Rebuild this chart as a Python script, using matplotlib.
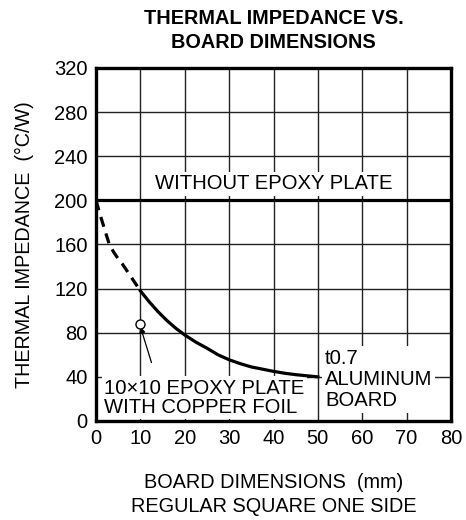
import matplotlib
matplotlib.use("Agg")
import matplotlib.pyplot as plt

plt.rcParams['font.family'] = ['Liberation Sans', 'DejaVu Sans']

# Data
without_epoxy_x = [0, 80]
without_epoxy_y = [200, 200]

dashed_x = [0, 1, 2, 3, 4, 5, 6, 7, 8, 9, 10]
dashed_y = [200, 186, 173, 160, 153, 147, 142, 136, 130, 124, 118]

solid_x = [10, 12, 14, 16, 18, 20, 22.5, 25, 27.5, 30, 32.5, 35, 37.5, 40, 42.5, 45, 47.5, 50]
solid_y = [118, 108, 99, 91, 84, 78, 71.5, 66, 60, 55.5, 52, 49, 47, 45, 43.3, 42, 41, 40]

point_x = [10]
point_y = [88]

x_ticks = [0, 10, 20, 30, 40, 50, 60, 70, 80]
y_ticks = [0, 40, 80, 120, 160, 200, 240, 280, 320]

fig = plt.figure(figsize=(4.66, 5.2), dpi=100)
ax = fig.add_axes([96/466, 1-421/520, (451-96)/466, (421-68)/520])

ax.set_xlim(0, 80)
ax.set_ylim(0, 320)
ax.set_xticks(x_ticks)
ax.set_yticks(y_ticks)
ax.tick_params(length=0, labelsize=14.5, pad=6, colors='black')
ax.grid(True, color='#222222', linewidth=1.0)
ax.set_axisbelow(True)
for s in ax.spines.values():
    s.set_linewidth(2.4)
    s.set_color('black')
    s.set_zorder(10)

ax.plot(without_epoxy_x, without_epoxy_y, color='black', lw=2.3, zorder=5, solid_capstyle='butt')
ax.plot(dashed_x, dashed_y, color='black', lw=2.3, ls=(0, (3.2, 2.2)), zorder=5)
ax.plot(solid_x, solid_y, color='black', lw=2.3, zorder=5)

ax.plot(point_x, point_y, marker='o', ms=6.5, mfc='white', mec='black', mew=1.0, ls='none', zorder=7)
ax.annotate('', xy=(point_x[0], point_y[0] - 2.5), xytext=(12.5, 53),
            arrowprops=dict(arrowstyle='-|>', color='black', lw=0.9, mutation_scale=9,
                            shrinkA=0, shrinkB=0), zorder=6)

fs = 14.6
ax.text(40, 215, 'WITHOUT EPOXY PLATE', ha='center', va='center', fontsize=fs, zorder=4,
        bbox=dict(boxstyle='square,pad=0.12', facecolor='white', edgecolor='none'))
ax.text(1.8, 21, '10\u00d710 EPOXY PLATE\nWITH COPPER FOIL', ha='left', va='center',
        fontsize=fs, linespacing=1.02, zorder=4,
        bbox=dict(boxstyle='square,pad=0.12', facecolor='white', edgecolor='none'))
ax.text(51.6, 37.5, 't0.7\nALUMINUM\nBOARD', ha='left', va='center',
        fontsize=fs, linespacing=1.12, zorder=4,
        bbox=dict(boxstyle='square,pad=0.15', facecolor='white', edgecolor='none'))

fig.text(273.5/466, 1-18/520, 'THERMAL IMPEDANCE VS.', ha='center', va='center',
         fontsize=14.3, fontweight='bold')
fig.text(273.5/466, 1-42/520, 'BOARD DIMENSIONS', ha='center', va='center',
         fontsize=14.3, fontweight='bold')

fig.text(24/466, 1-245/520, 'THERMAL IMPEDANCE  (\u00b0C/W)', ha='center', va='center',
         rotation=90, fontsize=14.2)
fig.text(273.5/466, 1-483/520, 'BOARD DIMENSIONS  (mm)', ha='center', va='center', fontsize=14.3)
fig.text(273.5/466, 1-507/520, 'REGULAR SQUARE ONE SIDE', ha='center', va='center', fontsize=14.3)

fig.savefig('out.png', dpi=100)
